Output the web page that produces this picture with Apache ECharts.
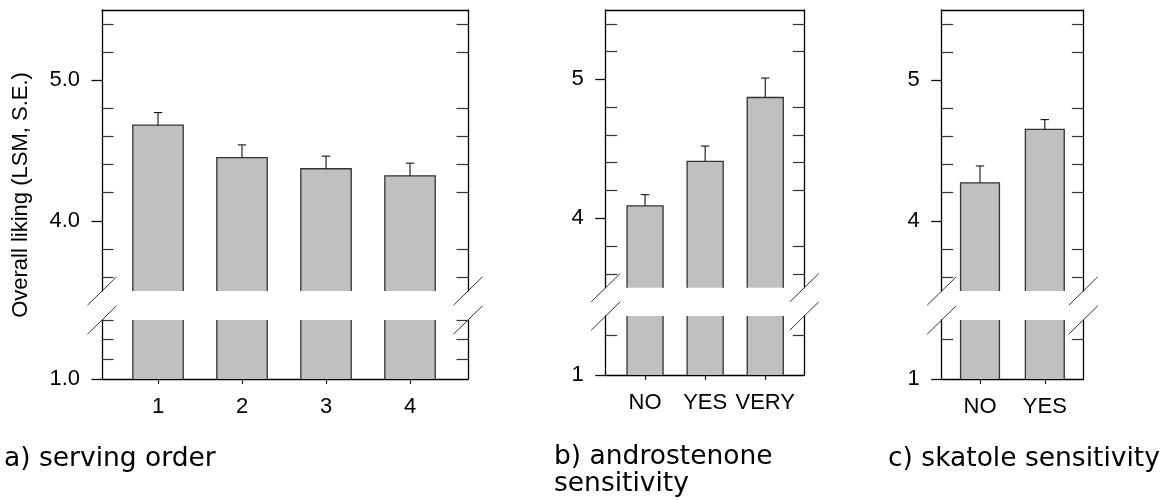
<!DOCTYPE html>
<html>
<head>
<meta charset="utf-8">
<script src="https://cdn.jsdelivr.net/npm/echarts@6/dist/echarts.min.js"></script>
<style>
  html, body { margin: 0; padding: 0; background: #fff; }
  #chart { width: 1166px; height: 500px; }
</style>
</head>
<body>
<div id="chart"></div>
<script>
// ---------- data ----------
const servingCats = ['1', '2', '3', '4'];
const servingMeans = [4.68, 4.45, 4.37, 4.32];
const servingSE = [0.09, 0.09, 0.09, 0.09];

const androCats = ['NO', 'YES', 'VERY'];
const androMeans = [4.09, 4.41, 4.87];
const androSE = [0.08, 0.11, 0.14];

const skatoleCats = ['NO', 'YES'];
const skatoleMeans = [4.27, 4.65];
const skatoleSE = [0.12, 0.07];

const upperRange = [3.5, 5.5];
const lowerRange = [1, 2.5];
const yMajorTicks = [4, 5];
const yMinorTicks = [3.6, 3.8, 4.2, 4.4, 4.6, 4.8, 5.2, 5.4];
const lowerMajorTicks = [1];

const yTitle = 'Overall liking (LSM, S.E.)';
const captions = ['a) serving order', 'b) androstenone\nsensitivity', 'c) skatole sensitivity'];

// ---------- layout / style ----------
const FONT = '"Liberation Sans", Arial, Helvetica, sans-serif';
const CAP_FONT = '"DejaVu Sans", Verdana, sans-serif';
const BAR_FILL = '#c0c0c0';
const EDGE = '#333';
const AXIS = '#000';
const BAR_W = 0.6;

const panels = [
  { cats: servingCats, means: servingMeans, se: servingSE, digits: 1,
    left: 102, width: 366, upTop: 10, upBottom: 291, lowTop: 320, lowBottom: 379,
    xMin: 0.333, xMax: 4.69, lowerMinor: [1.5, 2, 2.5] },
  { cats: androCats, means: androMeans, se: androSE, digits: 0,
    left: 605.7, width: 198.6, upTop: 10, upBottom: 287.7, lowTop: 316, lowBottom: 375,
    xMin: 0.345, xMax: 3.65, lowerMinor: [2] },
  { cats: skatoleCats, means: skatoleMeans, se: skatoleSE, digits: 0,
    left: 941.7, width: 141.6, upTop: 10, upBottom: 291, lowTop: 320, lowBottom: 379,
    xMin: 0.409, xMax: 2.594, lowerMinor: [2] }
];

const grids = [], xAxes = [], yAxes = [], series = [];

function makeRender(isUpper) {
  return function (params, api) {
    const cs = params.coordSys;
    const x = api.value(0), mean = api.value(1), se = api.value(2);
    const pl = api.coord([x - BAR_W / 2, mean]);
    const pr = api.coord([x + BAR_W / 2, mean]);
    const pc = api.coord([x, mean]);
    const bottom = cs.y + cs.height;
    let top = pl[1];
    const clipped = top < cs.y;
    if (clipped) top = cs.y;
    const edgeStyle = { stroke: EDGE, lineWidth: 1.3, fill: null };
    const children = [];
    children.push({ type: 'rect', shape: { x: pl[0], y: top, width: pr[0] - pl[0], height: bottom - top },
      style: { fill: BAR_FILL } });
    if (clipped) {
      children.push({ type: 'line', shape: { x1: pl[0], y1: top, x2: pl[0], y2: bottom }, style: edgeStyle });
      children.push({ type: 'line', shape: { x1: pr[0], y1: top, x2: pr[0], y2: bottom }, style: edgeStyle });
    } else {
      children.push({ type: 'polyline', shape: { points: [[pl[0], bottom], [pl[0], top], [pr[0], top], [pr[0], bottom]] },
        style: edgeStyle });
    }
    if (isUpper) {
      const pe = api.coord([x, mean + se]);
      const eStyle = { stroke: '#111', lineWidth: 1.1 };
      children.push({ type: 'line', shape: { x1: pc[0], y1: top, x2: pc[0], y2: pe[1] }, style: eStyle });
      children.push({ type: 'line', shape: { x1: pc[0] - 4.2, y1: pe[1], x2: pc[0] + 4.2, y2: pe[1] }, style: eStyle });
    }
    if (params.dataIndex === 0) {
      const by = isUpper ? bottom : cs.y;
      [cs.x, cs.x + cs.width].forEach(function (bx) {
        children.push({ type: 'line', shape: { x1: bx - 14.5, y1: by + 14.2, x2: bx + 14.5, y2: by - 14.2 },
          style: { stroke: '#333', lineWidth: 1 } });
      });
    }
    return { type: 'group', children: children };
  };
}

panels.forEach(function (p, pi) {
  const fmt = function (v) { return Number(v).toFixed(p.digits); };
  const seg = [
    { upper: true, top: p.upTop, bottom: p.upBottom, range: upperRange, major: yMajorTicks, minor: yMinorTicks },
    { upper: false, top: p.lowTop, bottom: p.lowBottom, range: lowerRange, major: lowerMajorTicks, minor: p.lowerMinor }
  ];
  seg.forEach(function (s) {
    const gi = grids.length;
    grids.push({ left: p.left, top: s.top, width: p.width, height: s.bottom - s.top,
      show: false, containLabel: false, outerBoundsMode: 'none' });
    const xi = xAxes.length;
    const ticks = p.cats.map(function (c, i) { return i + 1; });
    xAxes.push({
      type: 'value', gridIndex: gi, min: p.xMin, max: p.xMax,
      position: s.upper ? 'top' : 'bottom',
      splitLine: { show: false },
      axisLine: { show: true, onZero: false, lineStyle: { color: AXIS, width: 1.3 } },
      axisTick: { show: !s.upper, length: 5, customValues: ticks, lineStyle: { color: '#222', width: 1.2 } },
      axisLabel: { show: !s.upper, customValues: ticks, margin: 16.5, color: '#000', fontFamily: FONT, fontSize: 22,
        formatter: function (v) { return p.cats[Math.round(v) - 1]; } }
    });
    const yi = yAxes.length;
    // left major (outward, labelled)
    yAxes.push({
      type: 'value', gridIndex: gi, min: s.range[0], max: s.range[1], position: 'left',
      splitLine: { show: false },
      axisLine: { show: true, onZero: false, lineStyle: { color: AXIS, width: 1.3 } },
      axisTick: { show: true, inside: false, length: 10.5, customValues: s.major, lineStyle: { color: '#111', width: 1.3 } },
      axisLabel: { show: true, customValues: s.major, margin: 22, color: '#000', fontFamily: FONT, fontSize: 22, formatter: fmt }
    });
    // left minor (inward)
    yAxes.push({
      type: 'value', gridIndex: gi, min: s.range[0], max: s.range[1], position: 'left',
      splitLine: { show: false },
      axisLine: { show: false, onZero: false },
      axisTick: { show: true, inside: true, length: 11.5, customValues: s.minor, lineStyle: { color: '#333', width: 1.2 } },
      axisLabel: { show: false }
    });
    // right (inward minor)
    yAxes.push({
      type: 'value', gridIndex: gi, min: s.range[0], max: s.range[1], position: 'right',
      splitLine: { show: false },
      axisLine: { show: true, onZero: false, lineStyle: { color: AXIS, width: 1.3 } },
      axisTick: { show: true, inside: true, length: 11.5, customValues: s.minor, lineStyle: { color: '#333', width: 1.2 } },
      axisLabel: { show: false }
    });
    series.push({
      type: 'custom', xAxisIndex: xi, yAxisIndex: yi, clip: false, silent: true,
      renderItem: makeRender(s.upper),
      encode: { x: 0, y: 1 },
      data: p.means.map(function (m, i) { return [i + 1, m, p.se[i]]; })
    });
  });
});

const graphic = [
  { type: 'text', x: 21, y: 195, rotation: Math.PI / 2, silent: true,
    style: { text: yTitle, fill: '#000', font: '22px ' + FONT, align: 'center', verticalAlign: 'middle',
      textAlign: 'center', textVerticalAlign: 'middle' } },
  { type: 'text', x: 4, y: 459, silent: true,
    style: { text: captions[0], fill: '#000', font: '26.5px ' + CAP_FONT, align: 'left', verticalAlign: 'middle',
      textAlign: 'left', textVerticalAlign: 'middle' } },
  { type: 'text', x: 554, y: 457.5, silent: true,
    style: { text: captions[1].split('\n')[0], fill: '#000', font: '26.5px ' + CAP_FONT, align: 'left', verticalAlign: 'middle',
      textAlign: 'left', textVerticalAlign: 'middle' } },
  { type: 'text', x: 554, y: 484.5, silent: true,
    style: { text: captions[1].split('\n')[1], fill: '#000', font: '26.5px ' + CAP_FONT, align: 'left', verticalAlign: 'middle',
      textAlign: 'left', textVerticalAlign: 'middle' } },
  { type: 'text', x: 888, y: 459, silent: true,
    style: { text: captions[2], fill: '#000', font: '26.5px ' + CAP_FONT, align: 'left', verticalAlign: 'middle',
      textAlign: 'left', textVerticalAlign: 'middle' } }
];

const chart = echarts.init(document.getElementById('chart'), null, { renderer: 'canvas' });
chart.setOption({
  animation: false,
  backgroundColor: '#fff',
  grid: grids,
  xAxis: xAxes,
  yAxis: yAxes,
  series: series,
  graphic: graphic
});
</script>
</body>
</html>
